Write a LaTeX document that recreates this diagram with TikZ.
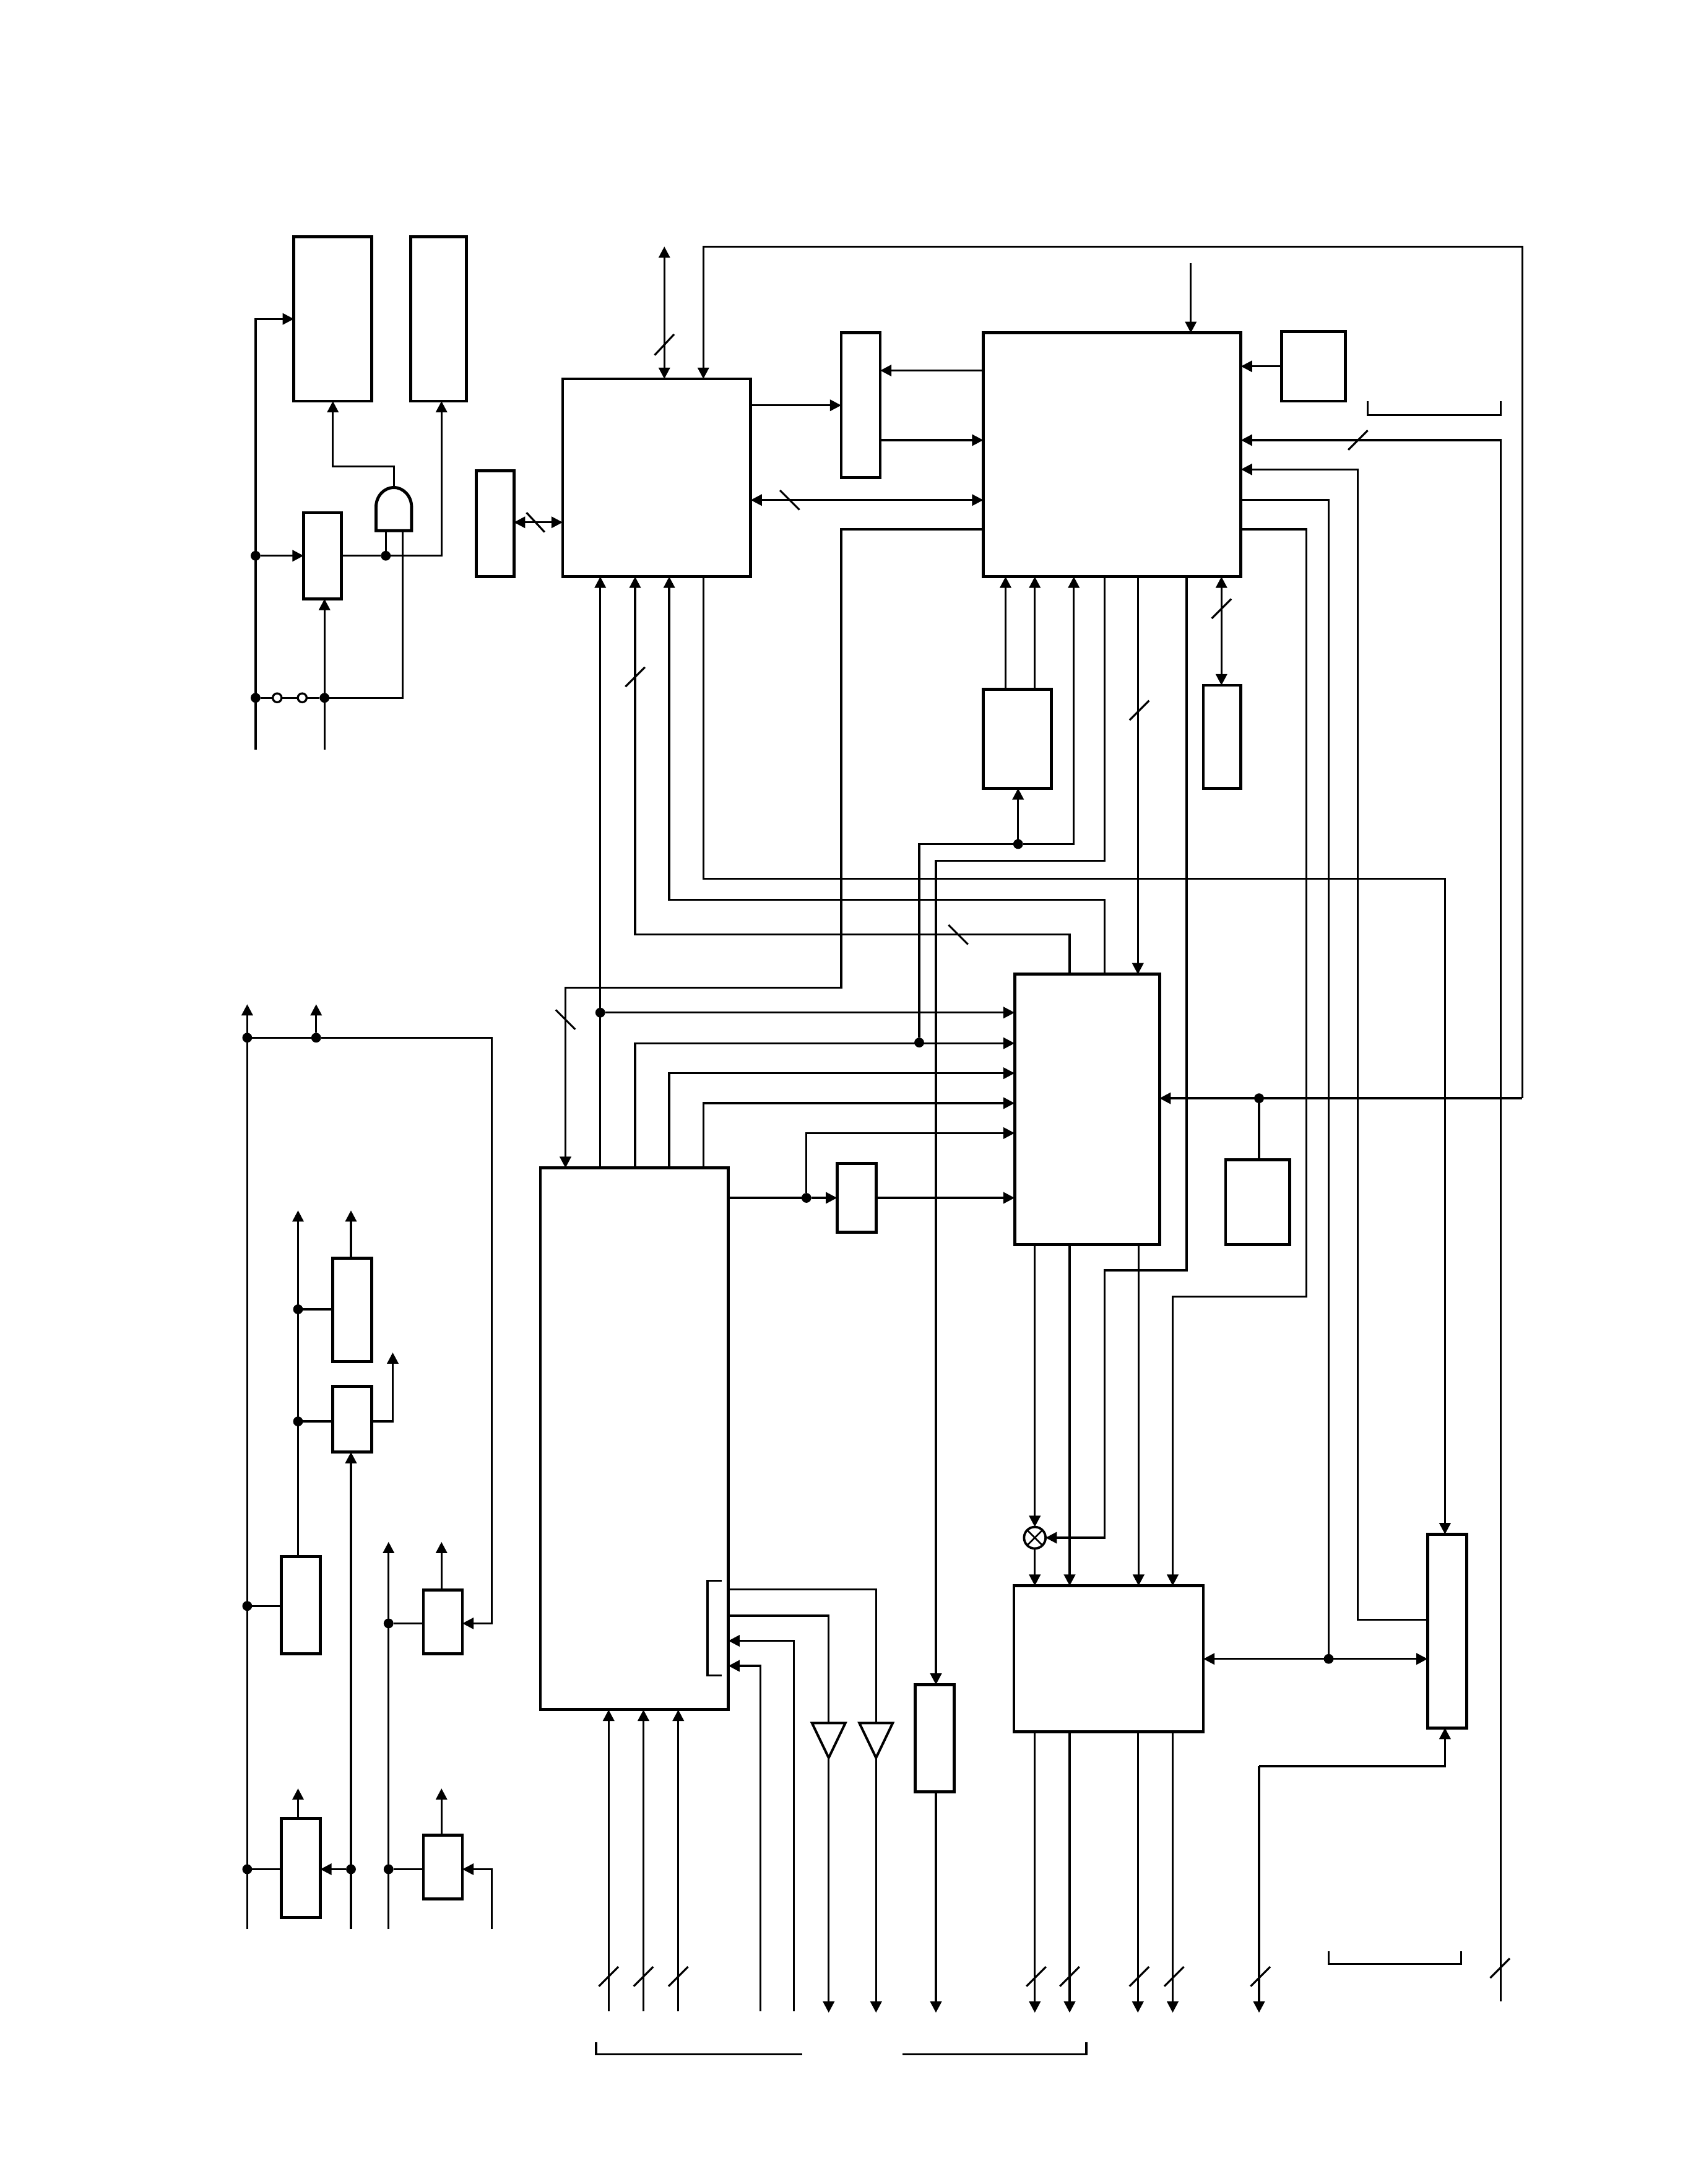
\documentclass[tikz,border=0pt]{standalone}
\usepackage{tikz}
\usetikzlibrary{arrows.meta}
\usetikzlibrary{shapes}
\tikzstyle{bloc}=[rectangle,draw,line width=1.25pt,inner sep=0pt,outer sep=0pt]
\tikzset{taille/.style 2 args={minimum width=#1*0.02cm,minimum height=#2*0.02cm}}
\tikzstyle{jonct}=[circle,fill=black,inner sep=0pt,outer sep=0pt,minimum size=4pt]
\tikzstyle{ouvert}=[circle,draw,fill=white,line width=0.85pt,inner sep=0pt,outer sep=0pt,minimum size=3.6pt]
\tikzstyle{mult}=[circle,draw,line width=0.95pt,inner sep=0pt,outer sep=0pt,minimum size=8.8pt,
path picture={\draw[line width=0.65pt] (path picture bounding box.north west) -- (path picture bounding box.south east);
\draw[line width=0.65pt] (path picture bounding box.north east) -- (path picture bounding box.south west);}]
\tikzstyle{fil}=[line width=0.85pt,line join=miter]
\tikzstyle{suite}=[fil,->,>={Triangle[length=4.6pt,width=4.6pt]}]
\tikzstyle{dbl}=[fil,<->,>={Triangle[length=4.6pt,width=4.6pt]}]
\tikzstyle{barre}=[line width=0.8pt]
\begin{document}
\begin{tikzpicture}[x=0.02cm,y=-0.02cm]
\useasboundingbox (0,0) rectangle (1212,1568);
%Blocs
\node[bloc,taille={56}{118}] (ram1) at (239,229) {};
\node[bloc,taille={40}{118}] (ram2) at (315,229) {};
\node[bloc,taille={27}{62}] (ff) at (231.5,399) {};
\node[bloc,taille={27}{76}] (bufL) at (355.5,376) {};
\node[bloc,taille={135}{142}] (bA) at (471.5,343) {};
\node[bloc,taille={28}{104}] (bB) at (618,291) {};
\node[bloc,taille={185}{175}] (bC) at (798.5,326.5) {};
\node[bloc,taille={46}{50}] (bD) at (943,263) {};
\node[bloc,taille={49}{71}] (bE) at (730.5,530.5) {};
\node[bloc,taille={27}{74}] (bF) at (877.5,529) {};
\node[bloc,taille={104}{194}] (bG) at (780.5,796.5) {};
\node[bloc,taille={135}{389}] (bH) at (455.5,1033) {};
\node[bloc,taille={28}{49}] (bI) at (615,860) {};
\node[bloc,taille={46}{61}] (bJ) at (903,863) {};
\node[bloc,taille={28}{74}] (bK) at (253,940.5) {};
\node[bloc,taille={28}{47}] (bL) at (253,1019) {};
\node[bloc,taille={28}{70}] (bM) at (216,1152.5) {};
\node[bloc,taille={28}{46}] (bN) at (318,1164.5) {};
\node[bloc,taille={28}{71}] (bO) at (216,1341) {};
\node[bloc,taille={28}{46}] (bP) at (318,1340.5) {};
\node[bloc,taille={28}{77}] (bQ) at (671,1248) {};
\node[bloc,taille={136}{105}] (bR) at (796,1191) {};
\node[bloc,taille={28}{139}] (bS) at (1039,1171) {};
\node[mult] (xm) at (743,1104) {};
%Porte et triangles
\draw[bloc] (270,381) -- (270,364) arc (180:0:12.75 and -14) -- (295.5,381) -- cycle;
\coordinate (gs) at (283,350);
\coordinate (ge1) at (277,381);
\coordinate (ge2) at (289,381);
\draw[fil,line width=1pt] (583,1237) -- (607,1237) -- (595,1262) -- cycle;
\draw[fil,line width=1pt] (617,1237) -- (641,1237) -- (629,1262) -- cycle;
\coordinate (t1h) at (595,1237);
\coordinate (t1b) at (595,1262);
\coordinate (t2h) at (629,1237);
\coordinate (t2b) at (629,1262);
%Jonctions
\node[jonct] (j1) at (183.5,399) {};
\node[jonct] (j2) at (183.5,501) {};
\node[jonct] (j3) at (233,501) {};
\node[jonct] (j4) at (277,399) {};
\node[ouvert] (o1) at (199,501) {};
\node[ouvert] (o2) at (217,501) {};
\node[jonct] (j5) at (731,606) {};
\node[jonct] (j6) at (660,748.5) {};
\node[jonct] (j7) at (431,727) {};
\node[jonct] (j8) at (579,860) {};
\node[jonct] (j9) at (904,788.5) {};
\node[jonct] (j10) at (954,1191) {};
\node[jonct] (j11) at (177.5,745) {};
\node[jonct] (j12) at (227,745) {};
\node[jonct] (j13) at (214,940) {};
\node[jonct] (j14) at (214,1020.5) {};
\node[jonct] (j15) at (177.5,1153) {};
\node[jonct] (j16) at (177.5,1342) {};
\node[jonct] (j17) at (252,1342) {};
\node[jonct] (j18) at (279,1165.5) {};
\node[jonct] (j19) at (279,1342) {};
%Extremites libres
\coordinate (e1) at (183.5,538);
\coordinate (e2) at (233,538);
\coordinate (e3) at (477,177);
\coordinate (e4) at (855,189);
\coordinate (e5) at (1077.5,1437);
\coordinate (e6) at (437,1444);
\coordinate (e7) at (462,1444);
\coordinate (e8) at (487,1444);
\coordinate (e9) at (546,1444);
\coordinate (e10) at (570,1444);
\coordinate (e11) at (595,1445);
\coordinate (e12) at (629,1445);
\coordinate (e13) at (672,1445);
\coordinate (e14) at (743,1445);
\coordinate (e15) at (768,1445);
\coordinate (e16) at (817,1445);
\coordinate (e17) at (842,1445);
\coordinate (e18) at (904,1445);
\coordinate (e19) at (177.5,1385);
\coordinate (e20) at (177.5,721);
\coordinate (e21) at (227,721);
\coordinate (e22) at (214,869);
\coordinate (e23) at (252,869);
\coordinate (e24) at (282,971);
\coordinate (e25) at (252,1385);
\coordinate (e26) at (214,1284);
\coordinate (e27) at (279,1385);
\coordinate (e28) at (279,1107);
\coordinate (e29) at (317,1107);
\coordinate (e30) at (317,1284);
\coordinate (e31) at (353,1385);
%Placement des fleches, en haut a gauche
\draw[suite] (e1) |- (ram1.west);
\draw[suite] (j1) -- (ff.west |- j1);
\draw[fil] (j2) -- (o1);
\draw[fil] (o1) -- (o2);
\draw[fil] (o2) -- (j3);
\draw[suite] (e2) -- (ff.south -| e2);
\draw[fil] (j3) -- (289,501) -- (ge2);
\draw[fil] (ff.east |- j4) -- (j4);
\draw[suite] (j4) -- (317,399) -- (ram2.south -| 317,0);
\draw[fil] (j4) -- (ge1);
\draw[suite] (gs) -- (283,335) -- (239,335) -- (ram1.south);
%Bloc A
\draw[dbl] (e3) -- (bA.north -| e3);
\draw[suite] (j9 -| 1093,0) -- (1093,177) -- (505,177) -- (bA.north -| 505,0);
\draw[suite] (j9 -| 1093,0) -- (bG.east |- j9);
\draw[fil] (bJ.north -| j9) -- (j9);
\draw[dbl] (bufL.east |- 0,375) -- (bA.west |- 0,375);
\draw[suite] (bA.east |- 0,291) -- (bB.west |- 0,291);
\draw[dbl] (bA.east |- 0,359) -- (bC.west |- 0,359);
\draw[suite] (bC.west |- 0,380) -- (604,380) -- (604,709) -- (406,709) -- (bH.north -| 406,0);
\draw[suite] (bH.north -| 431,0) -- (bA.south -| 431,0);
\draw[suite] (j7) -- (bG.west |- j7);
\draw[suite] (bG.north -| 768,0) -- (768,671) -- (456,671) -- (bA.south -| 456,0);
\draw[suite] (bG.north -| 793,0) -- (793,646) -- (480.5,646) -- (bA.south -| 480.5,0);
\draw[suite] (bA.south -| 505,0) -- (505,631) -- (1037.5,631) -- (bS.north -| 1037.5,0);
%Bloc B et C
\draw[suite] (bC.west |- 0,266) -- (bB.east |- 0,266);
\draw[suite] (bB.east |- 0,316) -- (bC.west |- 0,316);
\draw[suite] (e4) -- (bC.north -| e4);
\draw[suite] (bD.west) -- (bC.east |- bD.west);
\draw[suite] (e5) -- (1077.5,316) -- (bC.east |- 0,316);
\draw[suite] (bS.west |- 0,1163) -- (975,1163) -- (975,337) -- (bC.east |- 0,337);
\draw[fil] (bC.east |- 0,359) -- (954,359) -- (j10);
\draw[suite] (bC.east |- 0,380) -- (938,380) -- (938,931) -- (842,931) -- (bR.north -| 842,0);
\draw[suite] (bE.north -| 722,0) -- (bC.south -| 722,0);
\draw[suite] (bE.north -| 743,0) -- (bC.south -| 743,0);
\draw[suite] (j5) -- (771,606) -- (bC.south -| 771,0);
\draw[suite] (j5) -- (bE.south -| j5);
\draw[fil] (j5) -- (660,606) -- (j6);
\draw[suite] (bC.south -| 793,0) -- (793,618) -- (672,618) -- (bQ.north -| 672,0);
\draw[suite] (bC.south -| 817,0) -- (bG.north -| 817,0);
\draw[suite] (bC.south -| 852,0) -- (852,912) -- (793,912) -- (793,1104) -- (xm.east);
\draw[dbl] (bF.north -| 877,0) -- (bC.south -| 877,0);
%Bloc G
\draw[suite] (bH.north -| 456,0) -- (456,749) -- (bG.west |- 0,749);
\draw[suite] (bH.north -| 480.5,0) -- (480.5,770.5) -- (bG.west |- 0,770.5);
\draw[suite] (bH.north -| 505,0) -- (505,792) -- (bG.west |- 0,792);
\draw[fil] (bH.east |- j8) -- (j8);
\draw[suite] (j8) -- (bI.west |- j8);
\draw[suite] (j8) -- (579,813.5) -- (bG.west |- 0,813.5);
\draw[suite] (bI.east |- j8) -- (bG.west |- j8);
\draw[suite] (bG.south -| xm.north) -- (xm.north);
\draw[suite] (xm.south) -- (bR.north -| xm.south);
\draw[suite] (bG.south -| 768,0) -- (bR.north -| 768,0);
\draw[suite] (bG.south -| 817.5,0) -- (bR.north -| 817.5,0);
%Bloc R et S
\draw[suite] (j10) -- (bR.east |- j10);
\draw[suite] (j10) -- (bS.west |- j10);
\draw[suite] (bR.south -| e14) -- (e14);
\draw[suite] (bR.south -| e15) -- (e15);
\draw[suite] (bR.south -| e16) -- (e16);
\draw[suite] (bR.south -| e17) -- (e17);
\draw[suite] (904,1268) -- (e18);
\draw[suite] (904,1268) -- (1037.5,1268) -- (bS.south -| 1037.5,0);
%Bloc H, en bas
\draw[suite] (e6) -- (bH.south -| e6);
\draw[suite] (e7) -- (bH.south -| e7);
\draw[suite] (e8) -- (bH.south -| e8);
\draw[suite] (e9) -- (546,1196) -- (bH.east |- 0,1196);
\draw[suite] (e10) -- (570,1178) -- (bH.east |- 0,1178);
\draw[fil] (bH.east |- 0,1141) -- (629,1141) -- (t2h);
\draw[fil] (bH.east |- 0,1160) -- (595,1160) -- (t1h);
\draw[suite] (t1b) -- (e11);
\draw[suite] (t2b) -- (e12);
\draw[suite] (bQ.south -| e13) -- (e13);
%Partie gauche
\draw[suite] (e19) -- (e20);
\draw[suite] (j12) -- (e21);
\draw[fil] (j11) -- (j12);
\draw[suite] (j12) -- (353,745) -- (353,1165.5) -- (bN.east |- 0,1165.5);
\draw[suite] (bM.north -| e22) -- (e22);
\draw[fil] (j13) -- (bK.west |- j13);
\draw[fil] (j14) -- (bL.west |- j14);
\draw[suite] (bK.north -| e23) -- (e23);
\draw[suite] (bL.east |- j14) -- (282,1020.5) -- (e24);
\draw[suite] (e25) -- (bL.south -| e25);
\draw[suite] (j17) -- (bO.east |- j17);
\draw[fil] (j15) -- (bM.west |- j15);
\draw[fil] (j16) -- (bO.west |- j16);
\draw[suite] (bO.north -| e26) -- (e26);
\draw[suite] (e27) -- (e28);
\draw[fil] (j18) -- (bN.west |- j18);
\draw[fil] (j19) -- (bP.west |- j19);
\draw[suite] (bN.north -| e29) -- (e29);
\draw[suite] (bP.north -| e30) -- (e30);
\draw[suite] (e31) -- (353,1342) -- (bP.east |- 0,1342);
%Accolades
\draw[fil] (982,288) -- (982,298) -- (1077.5,298) -- (1077.5,288);
\draw[fil] (954,1401) -- (954,1410) -- (1049,1410) -- (1049,1401);
\draw[fil] (428,1466) -- (428,1475) -- (576,1475);
\draw[fil] (648,1475) -- (780,1475) -- (780,1466);
\draw[fil] (518,1135) -- (508,1135) -- (508,1203) -- (518,1203);
%Barres de bus
\draw[barre] (470,255) -- (484,240);
\draw[barre] (449,493) -- (463,479);
\draw[barre] (811,517) -- (825,503);
\draw[barre] (870,444) -- (884,430);
\draw[barre] (968,323) -- (982,309);
\draw[barre] (378,368) -- (391,382);
\draw[barre] (560,352) -- (574,366);
\draw[barre] (399,725) -- (413,739);
\draw[barre] (681,664) -- (695,678);
\draw[barre] (430,1426) -- (444,1412);
\draw[barre] (455,1426) -- (469,1412);
\draw[barre] (480,1426) -- (494,1412);
\draw[barre] (737,1426) -- (751,1412);
\draw[barre] (761,1426) -- (775,1412);
\draw[barre] (811,1426) -- (825,1412);
\draw[barre] (836,1426) -- (850,1412);
\draw[barre] (898,1426) -- (912,1412);
\draw[barre] (1070,1420) -- (1084,1406);
\end{tikzpicture}
\end{document}
